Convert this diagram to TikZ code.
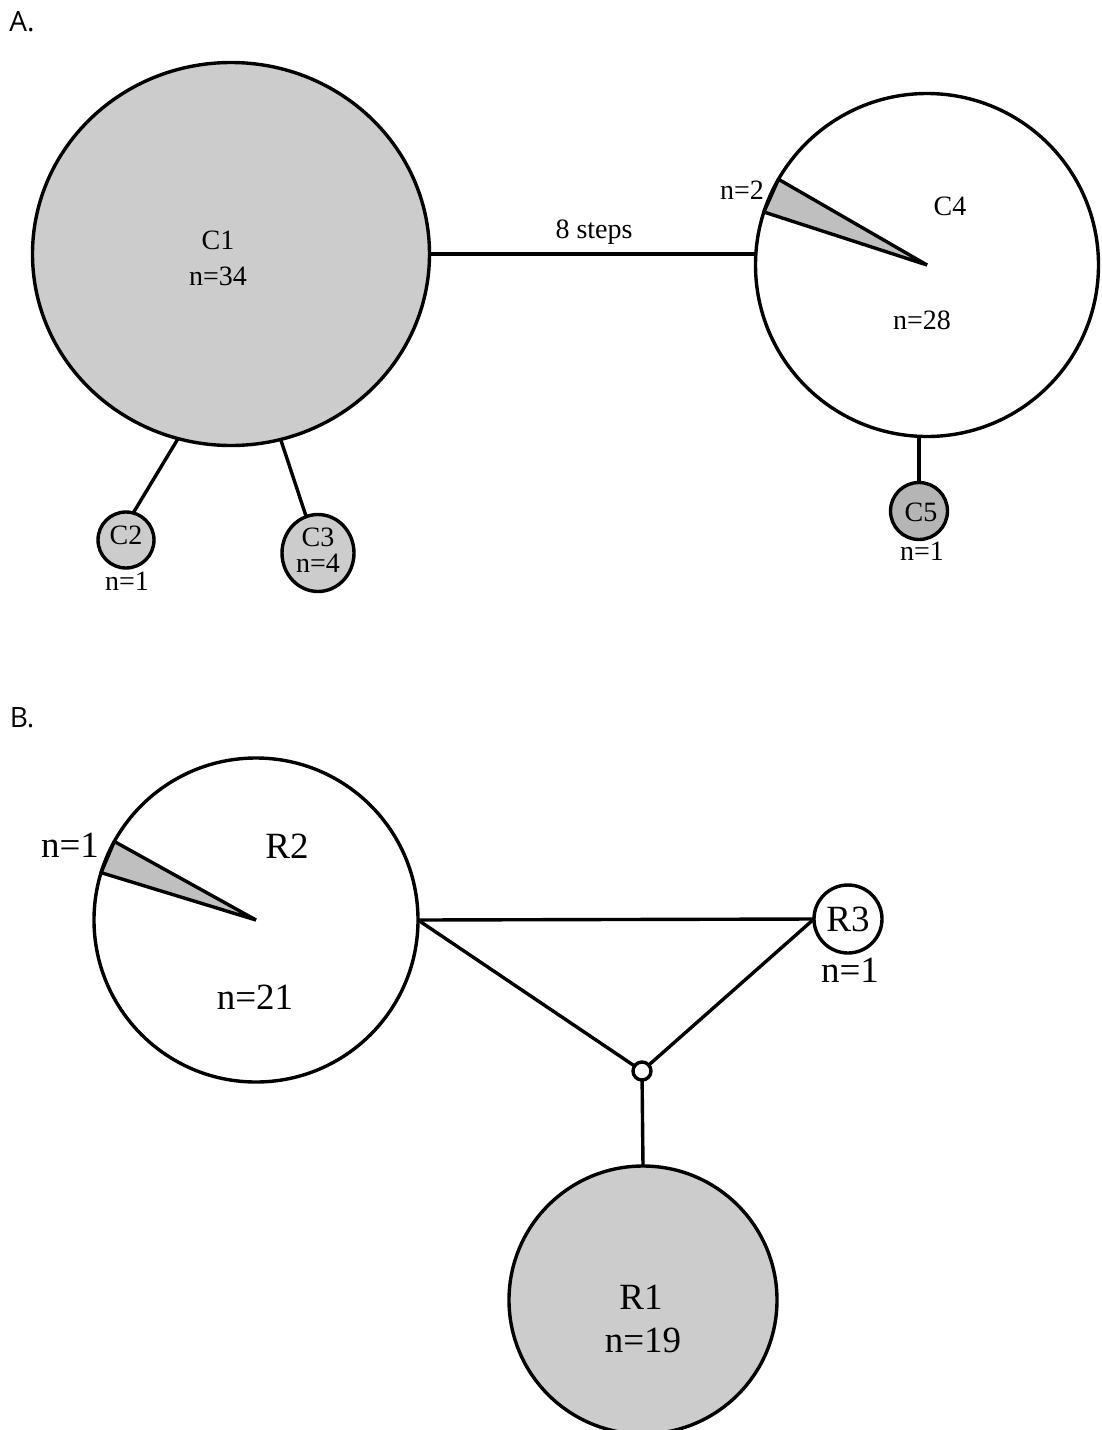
\documentclass[tikz,border=0pt]{standalone}
\usepackage{fontspec}
\setmainfont{Liberation Serif}
\newfontfamily\panelfont{Open Sans}
\usetikzlibrary{shapes.geometric}
\begin{document}
\begin{tikzpicture}[x=1pt,y=-1pt,
  hap/.style={circle,draw,line width=3.4pt,inner sep=0pt,outer sep=0pt},
  lightfill/.style={fill=gray!40},
  darkfill/.style={fill=gray!58},
  wedge/.style={fill=gray!50,draw,line width=3.4pt,line join=bevel},
  link/.style={line width=3.4pt},
  lblA/.style={font=\fontsize{28}{30}\selectfont,inner sep=0pt},
  lblB/.style={font=\fontsize{37}{39}\selectfont,inner sep=0pt},
  panel/.style={font=\panelfont\fontsize{28}{30}\selectfont,inner sep=0pt}
]
\useasboundingbox (0,0) rectangle (1101,1430);

% ---------- Panel A ----------
\node[panel] (pA) at (22,22) {A.};
\node[ellipse,draw,line width=3.4pt,inner sep=0pt,outer sep=0pt,lightfill,minimum width=397pt,minimum height=383pt] (c1) at (231,254) {};
\node[hap,fill=white,minimum size=343pt] (c4) at (927,265) {};
\node[hap,lightfill,minimum size=56pt] (c2) at (126,540) {};
\node[ellipse,draw,line width=3.4pt,inner sep=0pt,outer sep=0pt,lightfill,minimum width=72pt,minimum height=77pt] (c3) at (318,553) {};
\node[hap,darkfill,minimum size=57pt] (c5) at (919,511) {};

\draw[wedge] (c4.center) -- (c4.150) -- (c4.162) -- cycle;

\draw[link] (c1.east) -- (c1.east -| c4.west);
\draw[link] (c1.254) -- (c2.75);
\draw[link] (c1.285) -- (c3.108);
\draw[link] (c5.north) -- (c5.north |- c4.south);

\node[lblA] (s8) at (594,232) {8 steps};
\node[lblA] (t1) at (218,240) {C1};
\node[lblA] (n1) at (218,276) {n=34};
\node[lblA] (n2) at (742,190) {n=2};
\node[lblA] (t4) at (950,206) {C4};
\node[lblA] (n4) at (922,320) {n=28};
\node[lblA] (t2) at (126,535) {C2};
\node[lblA] (n2b) at (127,581) {n=1};
\node[lblA] (t3) at (318,537) {C3};
\node[lblA] (n3) at (318,563) {n=4};
\node[lblA] (t5) at (921,512) {C5};
\node[lblA] (n5) at (922,551) {n=1};

% ---------- Panel B ----------
\node[panel] (pB) at (22,718) {B.};
\node[hap,fill=white,minimum size=324pt] (r2) at (256,920) {};
\node[hap,fill=white,minimum size=68pt] (r3) at (848,919) {};
\node[hap,lightfill,minimum size=268pt] (r1) at (643,1300) {};
\node[hap,fill=white,minimum size=18pt] (j) at (642,1071) {};

\draw[wedge] (r2.center) -- (r2.151) -- (r2.163) -- cycle;

\draw[link] (r2.east) -- (r3.west);
\draw[link] (r2.east) -- (j);
\draw[link] (r3.west) -- (j);
\draw[link] (j) -- (r1.north);

\node[lblB] (tr2) at (287,846) {R2};
\node[lblB] (nr2a) at (70,845) {n=1};
\node[lblB] (nr2) at (255,997) {n=21};
\node[lblB] (tr3) at (848,919) {R3};
\node[lblB] (nr3) at (850,970) {n=1};
\node[lblB] (tr1) at (641,1297) {R1};
\node[lblB] (nr1) at (643,1340) {n=19};
\end{tikzpicture}
\end{document}
